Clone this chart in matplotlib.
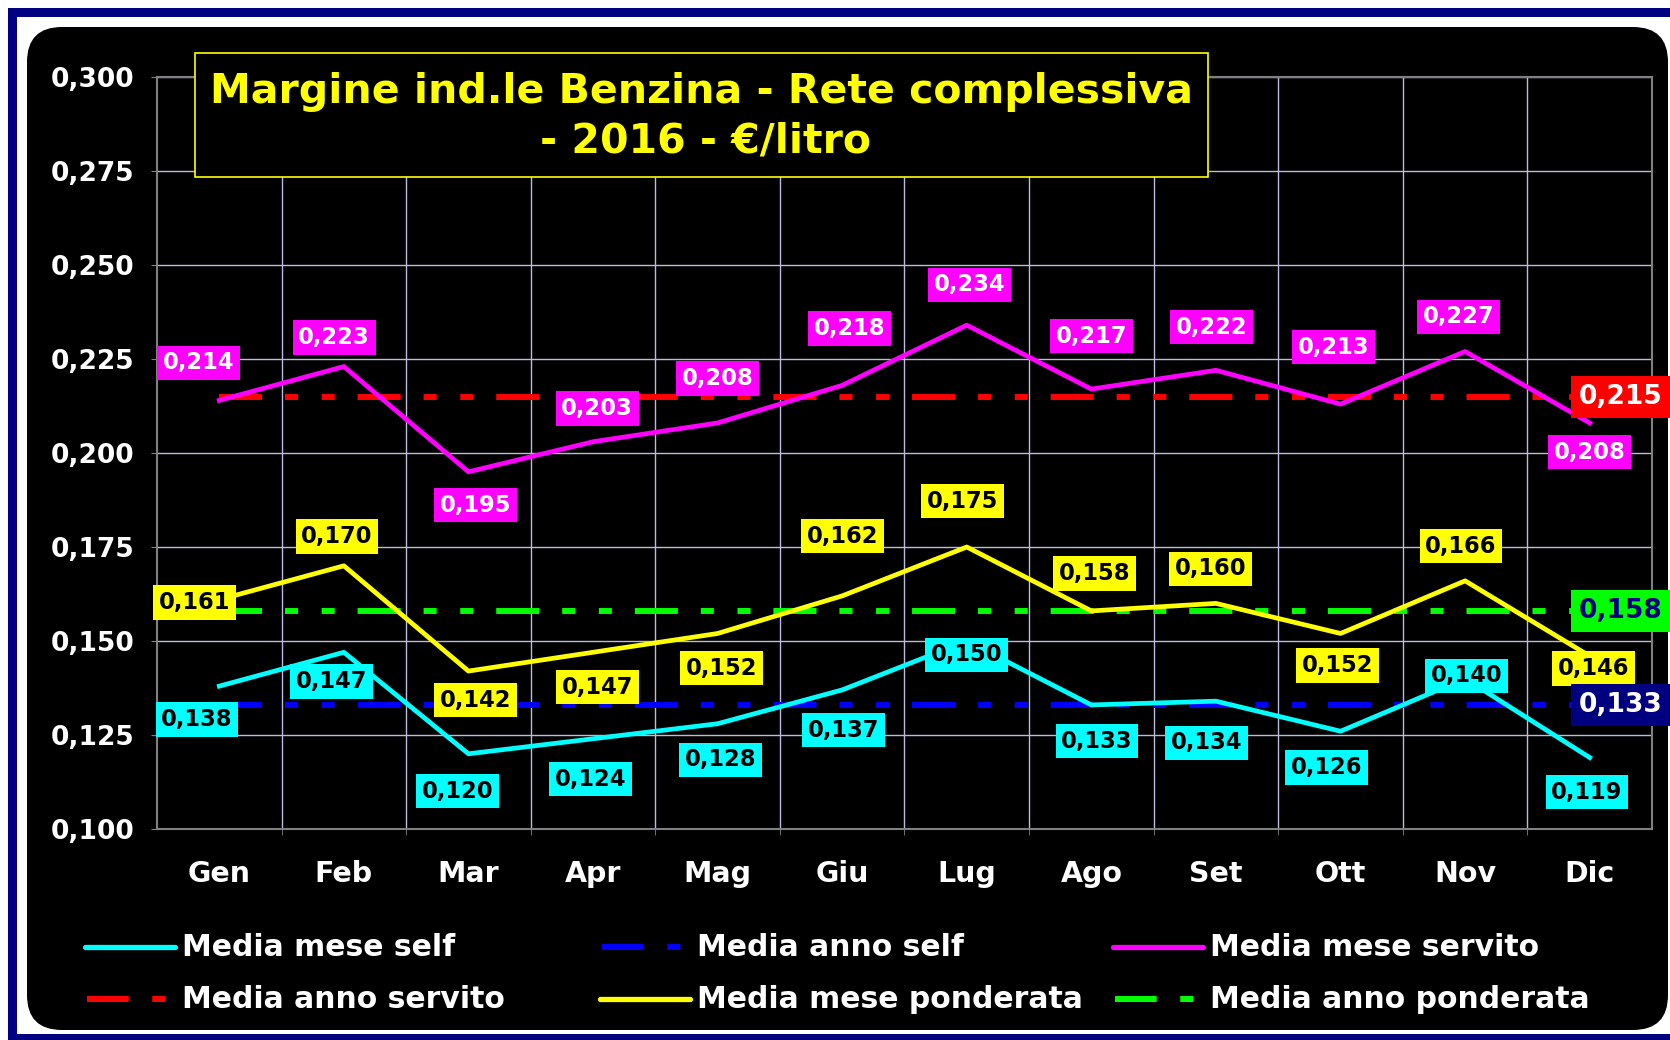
import numpy as np
from matplotlib import pyplot as plt
from matplotlib.patches import Rectangle, FancyBboxPatch
from matplotlib.lines import Line2D

mesi = ['Gen', 'Feb', 'Mar', 'Apr', 'Mag', 'Giu', 'Lug', 'Ago', 'Set', 'Ott', 'Nov', 'Dic']
mese_self = [0.138, 0.147, 0.120, 0.124, 0.128, 0.137, 0.150, 0.133, 0.134, 0.126, 0.140, 0.119]
mese_servito = [0.214, 0.223, 0.195, 0.203, 0.208, 0.218, 0.234, 0.217, 0.222, 0.213, 0.227, 0.208]
mese_ponderata = [0.161, 0.170, 0.142, 0.147, 0.152, 0.162, 0.175, 0.158, 0.160, 0.152, 0.166, 0.146]
anno_self = 0.133
anno_servito = 0.215
anno_ponderata = 0.158

titolo1 = 'Margine ind.le Benzina - Rete complessiva'
titolo2 = '- 2016 - €/litro'

# spostamento delle etichette (punti) rispetto al punto
off_servito = [(-15, 27), (-7, 21), (5, -24), (3, 24), (0, 32), (5, 41),
               (2, 29), (0, 38), (-3, 31), (-5, 41), (-5, 25), (0, -21)]
off_ponderata = [(-18, -2), (-5, 21), (5, -21), (3, -25), (3, -25), (0, 43),
                 (-3, 33), (2, 27), (-4, 25), (-2, -23), (-3, 25), (3, -9)]
off_self = [(-16, -24), (-9, -21), (-8, -27), (-2, -29), (2, -26), (1, -29),
            (0, -10), (4, -26), (-7, -30), (-10, -26), (1, 2), (-2, -25)]

plt.rcParams['font.family'] = 'DejaVu Sans'
plt.rcParams['font.weight'] = 'bold'
plt.rcParams['lines.scale_dashes'] = False

W, H = 1670, 1040
fig = plt.figure(figsize=(W / 100, H / 100), dpi=100)
fig.patch.set_facecolor('white')

# sfondo (cornice blu + riquadro nero arrotondato)
bg = fig.add_axes([0, 0, 1, 1], zorder=0)
bg.set_xlim(0, W)
bg.set_ylim(H, 0)
bg.axis('off')
bg.add_patch(Rectangle((8, 8), W, H, facecolor='#000080', edgecolor='none'))
bg.add_patch(Rectangle((17, 17), W, 1017, facecolor='white', edgecolor='none'))
bg.add_patch(FancyBboxPatch((27, 27), 1641, 1003, boxstyle='round,pad=0,rounding_size=35',
                            facecolor='black', edgecolor='none'))

fmt = lambda v: ('%.3f' % v).replace('.', ',')
dash = (0, (31, 16.5, 9.4, 17, 9.4, 16.5))

ax = fig.add_axes([157 / W, 1 - 829 / H, 1495 / W, 752 / H], zorder=1)
ax.set_facecolor('black')
x = np.arange(len(mesi))

ax.plot(x, [anno_self] * len(x), color='#0000FF', lw=4.3, ls=dash, dash_capstyle='butt', zorder=2)
ax.plot(x, [anno_servito] * len(x), color='#FF0000', lw=4.3, ls=dash, dash_capstyle='butt', zorder=2)
ax.plot(x, [anno_ponderata] * len(x), color='#00FF00', lw=4.3, ls=dash, dash_capstyle='butt', zorder=2)
ax.plot(x, mese_self, color='#00FFFF', lw=3.4, zorder=3)
ax.plot(x, mese_servito, color='#FF00FF', lw=3.4, zorder=3)
ax.plot(x, mese_ponderata, color='#FFFF00', lw=3.4, zorder=3)

serie = [(mese_servito, off_servito, '#FF00FF', 'white'),
         (mese_ponderata, off_ponderata, '#FFFF00', 'black'),
         (mese_self, off_self, '#00FFFF', 'black')]
for valori, offs, fc, tc in serie:
    for i, v in enumerate(valori):
        ax.annotate(fmt(v), (i, v), xytext=offs[i], textcoords='offset points',
                    ha='center', va='center', fontsize=16.3, color=tc, zorder=5,
                    bbox=dict(boxstyle='square,pad=0.25', fc=fc, ec='none'))

for v, fc, tc in [(anno_servito, '#FF0000', 'white'), (anno_ponderata, '#00FF00', '#000080'),
                  (anno_self, '#000080', 'white')]:
    ax.text(11.25, v, fmt(v), ha='center', va='center', fontsize=19, color=tc, zorder=6,
            clip_on=False, bbox=dict(boxstyle='square,pad=0.3', fc=fc, ec='none'))

ax.set_xlim(-0.5, 11.5)
ax.set_ylim(0.1, 0.3)
ax.set_yticks(np.arange(0.100, 0.3001, 0.025))
ax.set_yticklabels([fmt(v) for v in np.arange(0.100, 0.3001, 0.025)])
ax.set_xticks(x)
ax.set_xticklabels(mesi)
ax.set_xticks(np.arange(0.5, 11, 1), minor=True)
ax.tick_params(axis='y', colors='#808080', labelcolor='white', labelsize=19, length=4, pad=12)
ax.tick_params(axis='x', which='major', labelcolor='white', labelsize=20.5, length=0, pad=22)
ax.tick_params(axis='x', which='minor', colors='#808080', length=4)
ax.grid(axis='y', which='major', color='#BBBBDD', lw=1, zorder=0)
ax.grid(axis='x', which='minor', color='#BBBBDD', lw=1, zorder=0)
ax.set_axisbelow(True)
for s in ax.spines.values():
    s.set_color('#808080')
    s.set_linewidth(1.5)

# titolo e legenda sopra il grafico
ov = fig.add_axes([0, 0, 1, 1], zorder=10)
ov.set_xlim(0, W)
ov.set_ylim(H, 0)
ov.axis('off')
ov.patch.set_alpha(0)
ov.add_patch(Rectangle((195, 53), 1013, 124, facecolor='black', edgecolor='#FFFF00', lw=1.2))
ov.text(701, 92, titolo1, ha='center', va='center', fontsize=29.5, color='#FFFF00')
ov.text(706, 142, titolo2, ha='center', va='center', fontsize=29.5, color='#FFFF00')

voci = [('Media mese self', '#00FFFF', '-'), ('Media anno self', '#0000FF', dash),
        ('Media mese servito', '#FF00FF', '-'), ('Media anno servito', '#FF0000', dash),
        ('Media mese ponderata', '#FFFF00', '-'), ('Media anno ponderata', '#00FF00', dash)]
col_x = [85, 600, 1113]
row_y = [947, 999]
for k, (lab, c, st) in enumerate(voci):
    x0 = col_x[k % 3]
    y0 = row_y[k // 3]
    if st == '-':
        ov.add_line(Line2D([x0, x0 + 90], [y0, y0], color=c, lw=3.8, solid_capstyle='round'))
    else:
        ov.add_line(Line2D([x0 + 2, x0 + 90], [y0, y0], color=c, lw=4.3,
                           ls=(0, (30, 17, 9.4, 30)), dash_capstyle='butt'))
    ov.text(x0 + 97, y0, lab, ha='left', va='center', fontsize=21.5, color='white')

fig.savefig('out.png', dpi=100, facecolor='white')
